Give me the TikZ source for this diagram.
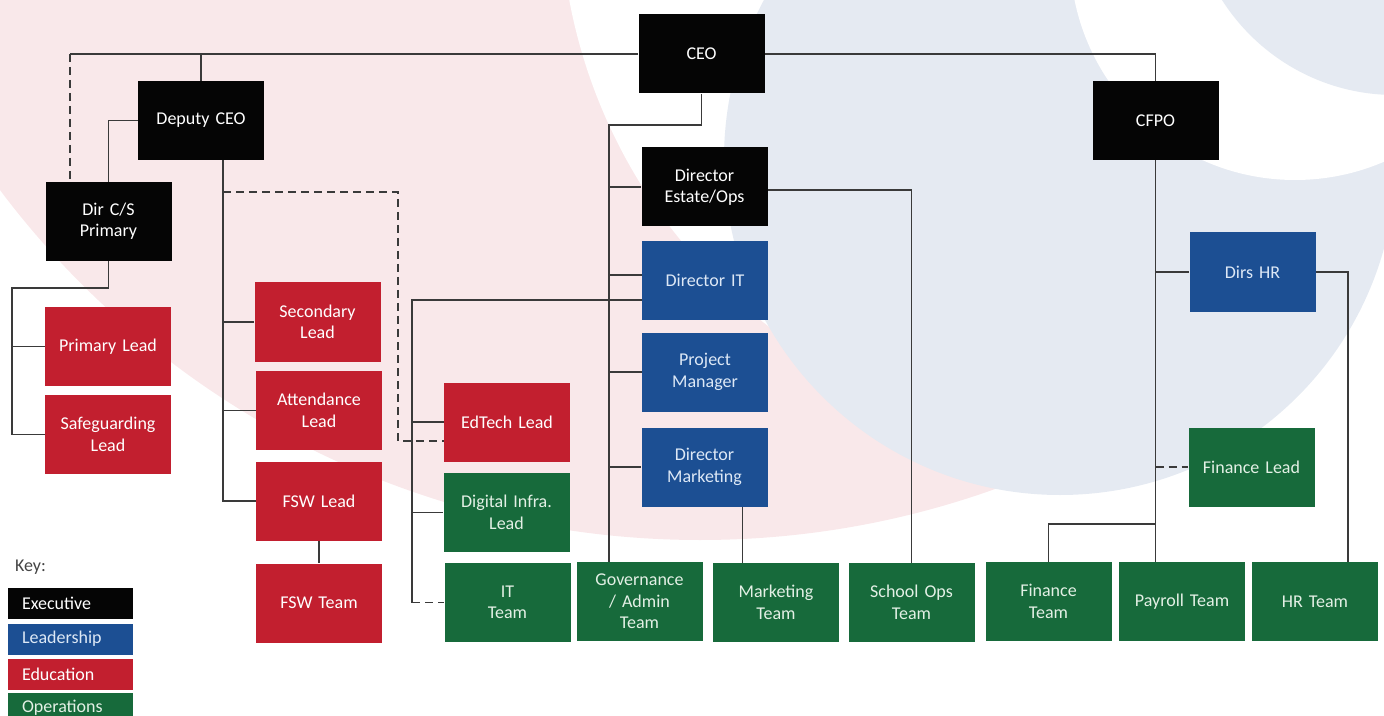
\documentclass[tikz,border=0pt]{standalone}
\usepackage{fontspec}
\setmainfont{Carlito}
\usepackage{tikz}
\definecolor{execblack}{HTML}{050505}
\definecolor{leadblue}{HTML}{1C4F93}
\definecolor{edured}{HTML}{C21F2F}
\definecolor{opsgreen}{HTML}{176A3B}
\definecolor{leadtext}{HTML}{DDE8F6}
\definecolor{opstext}{HTML}{E3F0E5}
\definecolor{linegrey}{HTML}{3A3A3A}
\definecolor{keygrey}{HTML}{444444}
\definecolor{bgpink}{HTML}{F9E8EA}
\definecolor{bgblue}{HTML}{E5EAF2}
\tikzset{
  unit/.style={minimum width=63pt, minimum height=39.5pt, inner sep=1pt,
    align=center, text width=58pt, font=\fontsize{9}{10.7}\selectfont},
  exec/.style={unit, fill=execblack, text=white},
  lead/.style={unit, fill=leadblue, text=leadtext},
  edu/.style={unit, fill=edured, text=white},
  ops/.style={unit, fill=opsgreen, text=opstext},
  keybox/.style={minimum width=62.5pt, minimum height=15.5pt, text width=48.5pt,
    align=left, inner xsep=7pt, inner ysep=0pt},
  conn/.style={draw=linegrey, line width=0.75pt},
  dashconn/.style={conn, dash pattern=on 4pt off 2.5pt}
}
\newcommand{\orgunit}[5]{
  \node[#2] (#1) at (#3,#4) {#5};
}

\begin{document}
\begin{tikzpicture}[x=0.5pt,y=-0.5pt]
  \useasboundingbox (0,0) rectangle (1384,716);
  \clip (0,0) rectangle (1384,716);

  % watermark
  \fill[bgpink] (700,-335) circle (875);
  \begin{scope}
    \clip (700,-335) circle (875);
    \fill[white] (1100,-100) circle (540);
  \end{scope}
  \fill[bgblue] (1060,159) circle (336);
  \begin{scope}
    \clip (1060,159) circle (336);
    \fill[white] (1295,-45) circle (225);
  \end{scope}
  \fill[bgblue] (1395,-110) circle (205);

  % executive
  \orgunit{ceo}{exec}{701.5}{54}{CEO}
  \orgunit{deputy}{exec}{201}{120.5}{Deputy CEO}
  \orgunit{dircs}{exec}{108.5}{221.5}{Dir C/S\\Primary}
  \orgunit{cfpo}{exec}{1155.5}{120.5}{CFPO}
  \orgunit{estate}{exec}{704.5}{187}{Director\\Estate/Ops}

  % leadership
  \orgunit{dirit}{lead}{705}{280.5}{Director IT}
  \orgunit{projmgr}{lead}{705}{372}{Project\\Manager}
  \orgunit{dirmkt}{lead}{704.5}{467}{Director\\Marketing}
  \orgunit{dirshr}{lead}{1252.5}{272}{Dirs HR}

  % education
  \orgunit{primary}{edu}{108}{346.5}{Primary Lead}
  \orgunit{safeg}{edu}{108}{434.5}{Safeguarding\\Lead}
  \orgunit{secondary}{edu}{317.5}{322}{Secondary\\Lead}
  \orgunit{attend}{edu}{319}{410.5}{Attendance\\Lead}
  \orgunit{fswlead}{edu}{319}{501}{FSW Lead}
  \orgunit{fswteam}{edu}{319}{603}{FSW Team}
  \orgunit{edtech}{edu}{507}{422}{EdTech Lead}

  % operations
  \orgunit{diginfra}{ops}{506.5}{512.5}{Digital Infra.\\Lead}
  \orgunit{itteam}{ops}{507.5}{602.5}{IT\\Team}
  \orgunit{gov}{ops}{639.5}{601.5}{Governance\\/ Admin\\Team}
  \orgunit{mktteam}{ops}{776}{602.5}{Marketing\\Team}
  \orgunit{schoolops}{ops}{911.5}{602.5}{School Ops\\Team}
  \orgunit{finlead}{ops}{1251.5}{467}{Finance Lead}
  \orgunit{finteam}{ops}{1048.5}{601.5}{Finance\\Team}
  \orgunit{payroll}{ops}{1182}{601.5}{Payroll Team}
  \orgunit{hrteam}{ops}{1315}{601.5}{HR Team}

  % top of the tree
  \draw[conn] (ceo.west) -- (ceo.west -| 70,0) coordinate (busL);
  \draw[dashconn] (busL) -- (busL |- dircs.north);
  \draw[conn] (deputy.north) -- (deputy.north |- busL);
  \draw[conn] (ceo.east) -| (cfpo.north);
  \draw[conn] (deputy.west) -| (dircs.north);

  % primary side
  \draw[conn] (dircs.south) |- (12,288) coordinate (csbus) |- (safeg.west);
  \draw[conn] (csbus |- primary.west) -- (primary.west);

  % deputy side
  \coordinate (depbus) at ([xshift=11pt]deputy.south);
  \draw[conn] (depbus) |- (fswlead.west);
  \foreach \n in {secondary,attend}
    \draw[conn] (depbus |- \n.west) -- (\n.west);
  \coordinate (edtin) at ([yshift=-9.5pt]edtech.west);
  \draw[dashconn] (depbus |- 0,192) -| (edtin -| 398,0) -- (edtin);
  \draw[conn] (fswlead.south) -- (fswteam.north);

  % ceo down
  \draw[conn] (ceo.south) |- (609,125) coordinate (opsbus) -- (opsbus |- gov.north);
  \foreach \n in {estate,projmgr,dirmkt}
    \draw[conn] (opsbus |- \n.west) -- (\n.west);
  \draw[conn] (opsbus |- 0,275) -- (dirit.west |- 0,275);

  % it
  \coordinate (itout) at (dirit.west |- 0,300);
  \draw[conn] (itout) -- (itout -| 412,0) coordinate (itbus) -- (itbus |- itteam.west);
  \draw[dashconn] (itbus |- itteam.west) -- (itteam.west);
  \foreach \n in {edtech,diginfra}
    \draw[conn] (itbus |- \n.west) -- (\n.west);

  \draw[conn] ([yshift=-1.5pt]estate.east) -| (schoolops.north);
  \coordinate (mktdown) at ([xshift=19pt]dirmkt.south);
  \draw[conn] (mktdown) -- (mktdown |- mktteam.north);

  % cfpo
  \draw[conn] (cfpo.south) -- (cfpo.south |- payroll.north);
  \draw[conn] (cfpo.south |- dirshr.west) -- (dirshr.west);
  \draw[dashconn] (cfpo.south |- finlead.west) -- (finlead.west);
  \draw[conn] (cfpo.south |- 0,524) -| (finteam.north);
  \draw[conn] (dirshr.east) -| ([xshift=16.5pt]hrteam.north);

  % key
  \node[anchor=west, text=keygrey, font=\fontsize{9}{10.7}\selectfont] (keytitle) at (8,567) {Key:};
  \foreach \kind/\kname/\y in {exec/Executive/603.5, lead/Leadership/639,
      edu/Education/674, ops/Operations/708}
    \node[\kind, keybox] (key\kind) at (70.5,\y) {\kname};
\end{tikzpicture}
\end{document}
